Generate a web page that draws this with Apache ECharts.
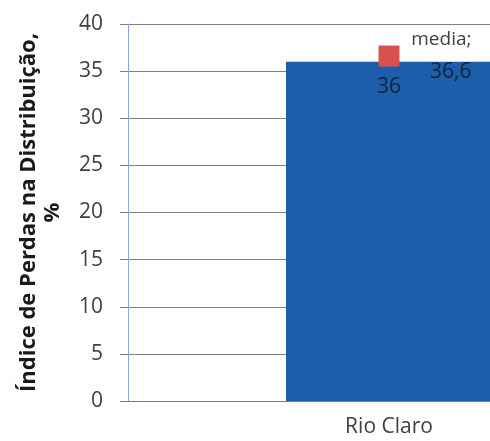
<!DOCTYPE html>
<html>
<head>
<meta charset="utf-8">
<script src="https://cdn.jsdelivr.net/npm/echarts@6/dist/echarts.min.js"></script>
<style>html,body{margin:0;padding:0;background:#fff}#c{width:490px;height:441px}</style>
</head>
<body>
<div id="c"></div>
<script>
var categories = ['Rio Claro'];
var barValues = [36];
var mediaValues = [36.6];
var mediaName = 'media';
var yTitle = 'Índice de Perdas na Distribuição,\n%';
var yMin = 0, yMax = 40, yStep = 5;

var FONT = 'Open Sans';
var chart = echarts.init(document.getElementById('c'));
chart.setOption({
  animation: false,
  backgroundColor: '#ffffff',
  grid: { left: 128, top: 24, right: -160, height: 377, outerBoundsMode: 'none', containLabel: false },
  xAxis: {
    type: 'category',
    data: categories,
    axisLine: { lineStyle: { color: '#7f7f7f', width: 1 } },
    axisTick: { show: false },
    axisLabel: { color: '#404040', fontFamily: FONT, fontSize: 21, margin: 16 }
  },
  yAxis: {
    type: 'value',
    min: yMin, max: yMax, interval: yStep,
    name: yTitle,
    nameLocation: 'middle',
    nameRotate: 90,
    nameGap: 63,
    nameTextStyle: { color: '#1a1a1a', fontFamily: FONT, fontSize: 22, fontWeight: 'bold', lineHeight: 24, align: 'center' },
    axisLine: { show: true, lineStyle: { color: '#8ea4cf', width: 1 } },
    axisTick: { show: true, length: 8, lineStyle: { color: '#7f7f7f' } },
    splitLine: { show: true, lineStyle: { color: '#808080', width: 1 } },
    axisLabel: { color: '#404040', fontFamily: FONT, fontSize: 21, margin: 25 }
  },
  series: [
    {
      type: 'bar',
      data: barValues,
      barWidth: 206,
      itemStyle: { color: '#1c5ea9' },
      label: {
        show: true, position: 'insideTop', distance: 15,
        color: '#13223e', fontFamily: FONT, fontSize: 21,
        formatter: function (p) { return String(p.value).replace('.', ','); }
      },
      z: 2
    },
    {
      type: 'scatter',
      name: mediaName,
      data: mediaValues,
      symbol: 'rect',
      symbolSize: 21,
      itemStyle: { color: '#d9514f', opacity: 1 },
      label: {
        show: true,
        position: [93, 10],
        align: 'right',
        verticalAlign: 'middle',
        formatter: function (p) { return '{a|' + mediaName + ';}\n{b|' + String(p.value).replace('.', ',') + '}'; },
        rich: {
          a: { color: '#404040', fontFamily: FONT, fontSize: 19, lineHeight: 32, align: 'right' },
          b: { color: '#13223e', fontFamily: FONT, fontSize: 21, lineHeight: 32, align: 'right' }
        }
      },
      z: 3
    }
  ]
});
</script>
</body>
</html>
